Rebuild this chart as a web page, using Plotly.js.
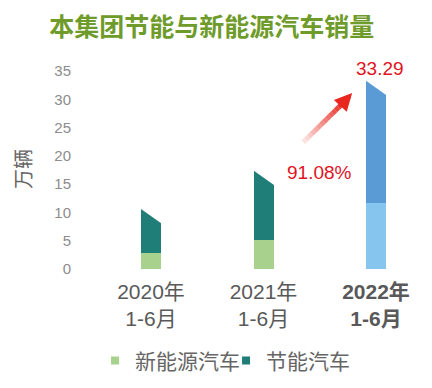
<!DOCTYPE html>
<html><head><meta charset="utf-8">
<script src="https://cdn.plot.ly/plotly-3.0.1.min.js"></script>
<style>body{margin:0;background:#fff}#c{width:432px;height:388px}</style>
</head><body><div id="c"></div>
<script>
const categories = ["2020年<br>1-6月", "2021年<br>1-6月", "<b>2022年<br>1-6月</b>"];
const nevSales = [2.9, 5.2, 11.6];
const savingSales = [7.7, 12.22, 21.69];
const totalLabel = "33.29";
const growthLabel = "91.08%";
const seriesNames = ["新能源汽车", "节能汽车"];
const yUnit = "万辆";

const xs = categories.map((c, i) => i);
const totals = nevSales.map((v, i) => v + savingSales[i]);
const W = 0.178;
const CUT = 2.5;
const font = "Arial, 'Liberation Sans', 'Noto Sans CJK SC', sans-serif";
const cjk = "'Noto Sans CJK SC', sans-serif";

const traces = [
  {type: "bar", x: xs, y: nevSales, width: W, showlegend: false, hoverinfo: "skip",
   marker: {color: ["#A9D18E", "#A9D18E", "#85C5EE"]}},
  {type: "bar", x: xs, y: savingSales, width: W, showlegend: false, hoverinfo: "skip",
   marker: {color: ["#1F7F78", "#1F7F78", "#5B9BD5"]}},
];
// white triangles to cut the top-right corner of each bar
xs.forEach((x, i) => {
  const xl = x - W / 2, xr = x + W / 2, t = totals[i];
  traces.push({type: "scatter", mode: "none", fill: "toself", fillcolor: "#ffffff",
    x: [xl, xr + 0.02, xr + 0.02, xl - 0.01], y: [t, t - CUT - 0.3, t + 1, t + 1],
    showlegend: false, hoverinfo: "skip"});
});
// legend entries
traces.push({type: "scatter", mode: "markers", x: [null], y: [null], name: seriesNames[0],
  marker: {symbol: "square", size: 8, color: "#A9D18E"}});
traces.push({type: "scatter", mode: "markers", x: [null], y: [null], name: seriesNames[1],
  marker: {symbol: "square", size: 8, color: "#1F7F78"}});

// gradient arrow shaft
const shapes = [];
const x0 = 1.353, y0 = 22.4, x1 = 1.72, y1 = 29.6;
const N = 14;
for (let k = 0; k < N; k++) {
  const a = k / N, b = (k + 1) / N;
  shapes.push({type: "line", xref: "x", yref: "y",
    x0: x0 + (x1 - x0) * a, y0: y0 + (y1 - y0) * a,
    x1: x0 + (x1 - x0) * b, y1: y0 + (y1 - y0) * b,
    line: {color: `rgba(232,40,30,${(0.06 + 0.94 * b).toFixed(2)})`, width: 5}});
}

const layout = {
  width: 432, height: 388,
  margin: {l: 78, r: 12, t: 54, b: 119},
  paper_bgcolor: "#fff", plot_bgcolor: "#fff",
  barmode: "stack",
  font: {family: font},
  title: {text: "本集团节能与新能源汽车销量", x: 0.49, xanchor: "center", y: 0.93, yanchor: "middle",
    font: {family: cjk, size: 25, color: "#6E9B2A", weight: 700}},
  xaxis: {range: [-0.649, 2.391], tickvals: xs, ticktext: categories, showgrid: false, zeroline: false,
    automargin: false, showline: false, ticks: "", ticklen: 0, ticklabelstandoff: 8,
    tickfont: {size: 21, color: "#595959", family: font}, fixedrange: true},
  yaxis: {range: [0, 38], tickvals: [0, 5, 10, 15, 20, 25, 30, 35], showgrid: false, zeroline: false,
    automargin: false, showline: false, ticks: "", ticklen: 0, ticklabelstandoff: 6,
    tickfont: {size: 15, color: "#8C8C8C", family: font}},
  legend: {orientation: "h", traceorder: "normal", xref: "container", yref: "container",
    x: 0.22, xanchor: "left", y: 0.07, yanchor: "middle", entrywidth: 86, entrywidthmode: "pixels",
    font: {size: 21, color: "#666", family: cjk}},
  shapes: shapes,
  annotations: [
    {x: 1.788, y: 31.1, ax: x1 - 0.02, ay: y1 - 0.4, xref: "x", yref: "y", axref: "x", ayref: "y",
     text: "", showarrow: true, arrowhead: 2, arrowsize: 0.7, arrowwidth: 5, arrowcolor: "#E8281E"},
    {x: 2, y: totals[2], xref: "x", yref: "y", text: totalLabel, showarrow: false, xshift: 4,
     yanchor: "bottom", yshift: 0, font: {size: 19, color: "#E0141E", family: font}},
    {x: 1.495, y: totals[1], xref: "x", yref: "y", text: growthLabel, showarrow: false,
     yanchor: "middle", yshift: -2, font: {size: 19, color: "#E0141E", family: font}},
    {xref: "paper", yref: "paper", x: -0.164, y: 0.465, text: yUnit, textangle: -90, showarrow: false,
     xanchor: "center", yanchor: "middle", font: {size: 20, color: "#666", family: cjk}}
  ]
};
Plotly.newPlot("c", traces, layout, {displayModeBar: false, staticPlot: true});
</script></body></html>
